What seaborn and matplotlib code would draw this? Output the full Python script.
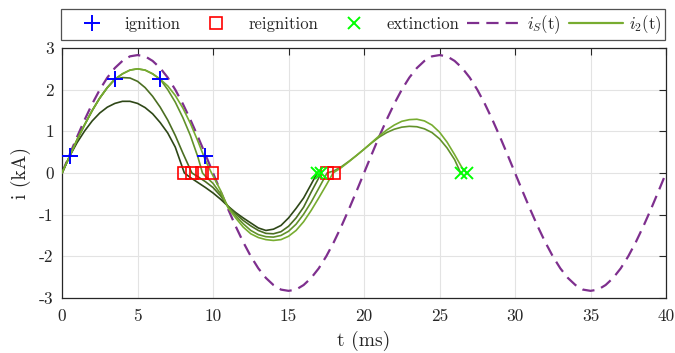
import numpy as np
import pandas as pd
import matplotlib
matplotlib.use("Agg")
import matplotlib.pyplot as plt
from matplotlib.lines import Line2D
import seaborn as sns

# ---- source current i_S(t), sampled every 0.5 ms (kA) ----
t_src = [k * 0.5 for k in range(81)]
i_src = [0.00, 0.44, 0.87, 1.28, 1.66, 2.00, 2.29, 2.52, 2.69, 2.80, 2.83,
         2.80, 2.69, 2.52, 2.29, 2.00, 1.66, 1.28, 0.87, 0.44, 0.00,
         -0.44, -0.87, -1.28, -1.66, -2.00, -2.29, -2.52, -2.69, -2.80, -2.83,
         -2.80, -2.69, -2.52, -2.29, -2.00, -1.66, -1.28, -0.87, -0.44, 0.00,
         0.44, 0.87, 1.28, 1.66, 2.00, 2.29, 2.52, 2.69, 2.80, 2.83,
         2.80, 2.69, 2.52, 2.29, 2.00, 1.66, 1.28, 0.87, 0.44, 0.00,
         -0.44, -0.87, -1.28, -1.66, -2.00, -2.29, -2.52, -2.69, -2.80, -2.83,
         -2.80, -2.69, -2.52, -2.29, -2.00, -1.66, -1.28, -0.87, -0.44, 0.00]

# ---- arc current i_2(t) for four cases (kA) ----
t_c1 = [0, 0.5, 1.0, 1.5, 2.0, 2.5, 3.0, 3.5, 4.0, 4.5, 5.0, 5.5, 6.0, 6.5, 7.0,
        7.5, 8.1, 8.5, 9.0, 9.5, 10.0, 10.5, 11.0, 11.5, 12.0, 12.5, 13.0,
        13.5, 14.0, 14.5, 15.0, 15.5, 16.0, 16.5, 16.9]
i_c1 = [0, 0.40, 0.73, 1.01, 1.25, 1.44, 1.58, 1.67, 1.72, 1.72, 1.67, 1.57,
        1.42, 1.21, 0.96, 0.62, 0.00, -0.11, -0.23, -0.35, -0.48, -0.63,
        -0.80, -0.95, -1.08, -1.20, -1.32, -1.38, -1.35, -1.26, -1.08, -0.85,
        -0.60, -0.27, 0.00]

t_c2 = [0, 0.5, 1.0, 1.5, 2.0, 2.5, 3.0, 3.5, 4.0, 4.5, 5.0, 5.5, 6.0, 6.5, 7.0,
        7.5, 8.0, 8.6, 9.0, 9.5, 10.0, 10.5, 11.0, 11.5, 12.0, 12.5, 13.0,
        13.5, 14.0, 14.5, 15.0, 15.5, 16.0, 16.5, 17.0, 17.15]
i_c2 = [0, 0.40, 0.80, 1.16, 1.50, 1.80, 2.05, 2.25, 2.29, 2.28, 2.20, 2.05,
        1.84, 1.58, 1.27, 0.90, 0.48, 0.00, -0.09, -0.21, -0.35, -0.55,
        -0.80, -0.98, -1.14, -1.27, -1.38, -1.45, -1.46, -1.41, -1.28, -1.08,
        -0.82, -0.46, -0.12, 0.00]

t_c3 = [0, 0.5, 1.0, 1.5, 2.0, 2.5, 3.0, 3.5, 4.0, 4.5, 5.0, 5.5, 6.0, 6.5, 7.0,
        7.5, 8.0, 8.5, 9.0, 9.3, 9.5, 10.0, 10.5, 11.0, 11.5, 12.0, 12.5, 13.0,
        13.5, 14.0, 14.5, 15.0, 15.5, 16.0, 16.5, 17.0, 17.55, 18.0, 18.5,
        19.0, 19.5, 20.0, 20.5, 21.0, 21.5, 22.0, 22.5, 23.0, 23.5, 24.0,
        24.5, 25.0, 25.5, 26.0, 26.4]
i_c3 = [0, 0.40, 0.80, 1.16, 1.50, 1.80, 2.05, 2.25, 2.38, 2.47, 2.50, 2.47,
        2.38, 2.25, 2.00, 1.70, 1.33, 0.90, 0.38, 0.00, -0.08, -0.25, -0.50,
        -0.82, -1.03, -1.22, -1.38, -1.48, -1.53, -1.54, -1.50, -1.40, -1.23,
        -0.99, -0.70, -0.37, 0.00, 0.05, 0.15, 0.28, 0.42, 0.57, 0.72, 0.86,
        0.97, 1.05, 1.10, 1.12, 1.11, 1.06, 0.97, 0.82, 0.60, 0.32, 0.00]

t_c4 = [0, 0.5, 1.0, 1.5, 2.0, 2.5, 3.0, 3.5, 4.0, 4.5, 5.0, 5.5, 6.0, 6.5, 7.0,
        7.5, 8.0, 8.5, 9.0, 9.5, 9.9, 10.5, 11.0, 11.5, 12.0, 12.5, 13.0,
        13.5, 14.0, 14.5, 15.0, 15.5, 16.0, 16.5, 17.0, 17.5, 17.95, 18.5,
        19.0, 19.5, 20.0, 20.5, 21.0, 21.5, 22.0, 22.5, 23.0, 23.5, 24.0,
        24.5, 25.0, 25.5, 26.0, 26.5, 26.8]
i_c4 = [0, 0.40, 0.80, 1.16, 1.50, 1.80, 2.05, 2.25, 2.38, 2.47, 2.50, 2.47,
        2.38, 2.25, 2.09, 1.86, 1.56, 1.19, 0.76, 0.30, 0.00, -0.42, -0.84,
        -1.08, -1.30, -1.46, -1.55, -1.60, -1.62, -1.60, -1.52, -1.38, -1.17,
        -0.90, -0.60, -0.29, 0.00, 0.13, 0.27, 0.42, 0.57, 0.73, 0.89, 1.03,
        1.15, 1.24, 1.28, 1.29, 1.25, 1.15, 0.98, 0.74, 0.44, 0.12, 0.00]

# ---- switching events ----
t_ign = [0.5, 3.5, 6.5, 9.5]
i_ign = [0.40, 2.25, 2.25, 0.40]
t_reign = [8.1, 8.6, 9.3, 9.9, 17.55, 18.0]
i_reign = [0, 0, 0, 0, 0, 0]
t_ext = [16.9, 17.15, 26.4, 26.8]
i_ext = [0, 0, 0, 0]

x_ticks = [0, 5, 10, 15, 20, 25, 30, 35, 40]
y_ticks = [-3, -2, -1, 0, 1, 2, 3]
y_tick_labels = ["-3", "-2", "-1", "0", "1", "2", "3"]

green_shades = ["#2e4717", "#4b6e22", "#62922a", "#77ac30"]
purple = "#7e2f8e"

sns.set_theme(style="whitegrid")
plt.rcParams["font.family"] = ["cmr10", "DejaVu Serif"]
plt.rcParams["mathtext.fontset"] = "cm"
plt.rcParams["axes.formatter.use_mathtext"] = True

fig = plt.figure(figsize=(6.75, 3.53), dpi=100)
ax = fig.add_axes([0.0919, 0.156, 0.8948, 0.708])

arc = pd.concat([
    pd.DataFrame({"t": t_c1, "i": i_c1, "case": "c1"}),
    pd.DataFrame({"t": t_c2, "i": i_c2, "case": "c2"}),
    pd.DataFrame({"t": t_c3, "i": i_c3, "case": "c3"}),
    pd.DataFrame({"t": t_c4, "i": i_c4, "case": "c4"}),
], ignore_index=True)
src = pd.DataFrame({"t": t_src, "i": i_src})

sns.lineplot(data=src, x="t", y="i", ax=ax, color=purple, lw=1.6,
             estimator=None, sort=False, zorder=2)
ax.lines[-1].set_dashes((5.5, 3.2))
sns.lineplot(data=arc, x="t", y="i", hue="case", palette=green_shades,
             ax=ax, lw=1.2, estimator=None, sort=False, legend=False, zorder=3)

ax.plot(t_ign, i_ign, ls="none", marker="+", ms=12, mew=1.4, color="#0000ff", zorder=5)
ax.plot(t_reign, i_reign, ls="none", marker="s", ms=9, mew=1.2, mfc="none",
        mec="#ff0000", zorder=5)
ax.plot(t_ext, i_ext, ls="none", marker="x", ms=9, mew=1.4, color="#00ff00", zorder=5)

ax.set_xlim(0, 40)
ax.set_ylim(-3, 3)
ax.set_xticks(x_ticks)
ax.set_xticklabels([str(v) for v in x_ticks])
ax.set_yticks(y_ticks)
ax.set_yticklabels(y_tick_labels)
ax.set_xlabel("t (ms)", fontsize=14, labelpad=5)
ax.set_ylabel("i (kA)", fontsize=14, labelpad=6)
ax.tick_params(axis="both", direction="in", length=5, width=0.8,
               color="#262626", labelsize=12.5, top=True, right=True,
               labelcolor="#262626")
ax.tick_params(axis="x", pad=8)
ax.tick_params(axis="y", pad=6)
ax.grid(True, color="#e3e3e3", lw=0.8)
for s in ax.spines.values():
    s.set_color("#262626")
    s.set_linewidth(0.9)
ax.set_facecolor("white")

handles = [
    Line2D([], [], ls="none", marker="+", ms=12, mew=1.4, color="#0000ff"),
    Line2D([], [], ls="none", marker="s", ms=9, mew=1.2, mfc="none", mec="#ff0000"),
    Line2D([], [], ls="none", marker="x", ms=9, mew=1.4, color="#00ff00"),
    Line2D([], [], color=purple, lw=1.6, dashes=(5.5, 3.2)),
    Line2D([], [], color=green_shades[3], lw=1.6),
]
labels = ["ignition", "reignition", "extinction", "$i_S$(t)", "$i_2$(t)"]
leg = fig.legend(handles, labels, ncol=5, loc="upper center",
                 bbox_to_anchor=(0.5378, 0.975),
                 fontsize=12, frameon=True, fancybox=False, borderpad=0.25,
                 handlelength=3.25, handletextpad=0.33, columnspacing=0.5,
                 borderaxespad=0)
leg.get_frame().set_edgecolor("#262626")
leg.get_frame().set_linewidth(0.9)

fig.savefig("out.png", dpi=100, facecolor="white")
